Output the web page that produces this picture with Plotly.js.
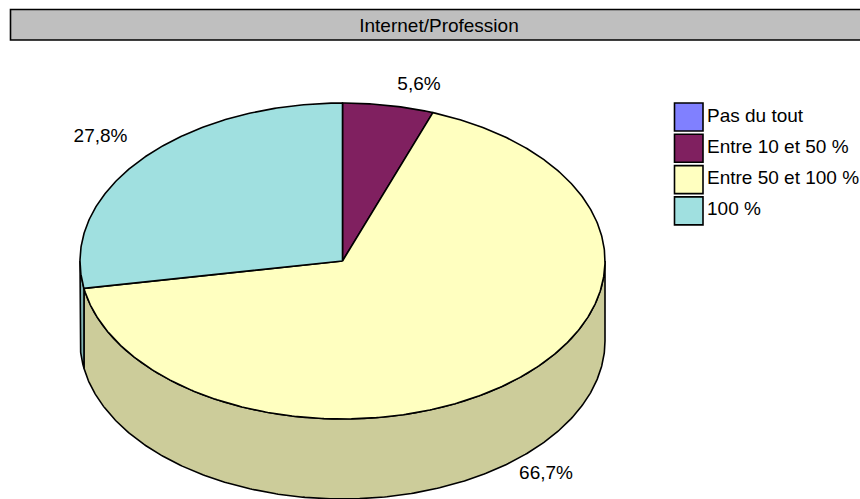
<!DOCTYPE html>
<html><head><meta charset="utf-8">
<script src="https://cdn.plot.ly/plotly-3.0.1.min.js"></script>
<style>html,body{margin:0;padding:0;background:#fff}#c{width:860px;height:499px}</style>
</head><body><div id="c"></div>
<script>
const chartTitle = 'Internet/Profession';
const categories = ['Pas du tout', 'Entre 10 et 50 %', 'Entre 50 et 100 %', '100 %'];
const values = [0, 5.6, 66.7, 27.8];
const topColors = ['#8080FF', '#802060', '#FFFFC0', '#A0E0E0'];
const sideColors = ['#6666CC', '#661A4D', '#CCCC9A', '#80B3B3'];

const FONT = 'Liberation Sans, Arial, sans-serif';
const FS = 19;
const LW = 1.6;
const cx = 342.5, cy = 261, rx = 262.5, ry = 158, depth = 80;
const labelPos = [null, [419, 85], [546, 474], [100.5, 137]];

const total = values.reduce((a, b) => a + b, 0);
const pt = (deg, dy) => {
  const r = deg * Math.PI / 180;
  return [cx + rx * Math.sin(r), cy - ry * Math.cos(r) + dy];
};
const arc = (a, b, dy) => {
  const out = [], n = Math.max(1, Math.ceil(Math.abs(b - a) * 2));
  for (let i = 0; i <= n; i++) out.push(pt(a + (b - a) * i / n, dy));
  return out;
};
const poly = (pts, fill, name) => ({
  type: 'scatter', mode: 'lines', name,
  x: pts.map(p => p[0]), y: pts.map(p => p[1]),
  fill: 'toself', fillcolor: fill,
  line: { color: '#000', width: LW }, hoverinfo: 'skip', showlegend: false
});

const sides = [], tops = [];
let start = 0;
values.forEach((v, i) => {
  const end = start + v / total * 360;
  if (v > 0) {
    const a = Math.max(start, 90), b = Math.min(end, 270);
    if (b > a) sides.push(poly(arc(a, b, 0).concat(arc(b, a, depth), [pt(a, 0)]), sideColors[i], categories[i]));
    tops.push(poly([[cx, cy]].concat(arc(start, end, 0), [[cx, cy]]), topColors[i], categories[i]));
  }
  start = end;
});

const labelIdx = values.map((v, i) => i).filter(i => values[i] > 0);
const labels = {
  type: 'scatter', mode: 'text', hoverinfo: 'skip', showlegend: false,
  x: labelIdx.map(i => labelPos[i][0]), y: labelIdx.map(i => labelPos[i][1]),
  text: labelIdx.map(i => values[i].toFixed(1).replace('.', ',') + '%'),
  textposition: 'middle center', textfont: { family: FONT, size: FS, color: '#000' }
};

const legTop = 103, legStep = 31.3, legH = 28;
const shapes = [{
  type: 'rect', xref: 'x', yref: 'y', x0: 10.5, x1: 880, y0: 9.5, y1: 40,
  fillcolor: '#BFBFBF', line: { color: '#000', width: LW }, layer: 'below'
}];
const annotations = [];
categories.forEach((c, i) => {
  const y0 = legTop + i * legStep;
  shapes.push({ type: 'rect', xref: 'x', yref: 'y', x0: 674.5, x1: 703, y0, y1: y0 + legH,
    fillcolor: topColors[i], line: { color: '#000', width: LW } });
  annotations.push({ xref: 'x', yref: 'y', x: 705, y: y0 + 12, text: c, showarrow: false,
    xanchor: 'left', yanchor: 'middle', font: { family: FONT, size: FS, color: '#000' } });
});

Plotly.newPlot('c', sides.concat(tops, [labels]), {
  width: 860, height: 499, margin: { l: 0, r: 0, t: 0, b: 0 },
  paper_bgcolor: '#fff', plot_bgcolor: '#fff', showlegend: false,
  title: { text: chartTitle, x: 439 / 860, y: 1 - 25 / 499, xanchor: 'center', yanchor: 'middle',
    font: { family: FONT, size: FS, color: '#000' } },
  xaxis: { range: [0, 860], visible: false, fixedrange: true },
  yaxis: { range: [499, 0], visible: false, fixedrange: true },
  shapes, annotations
}, { displayModeBar: false, staticPlot: true });
</script></body></html>
